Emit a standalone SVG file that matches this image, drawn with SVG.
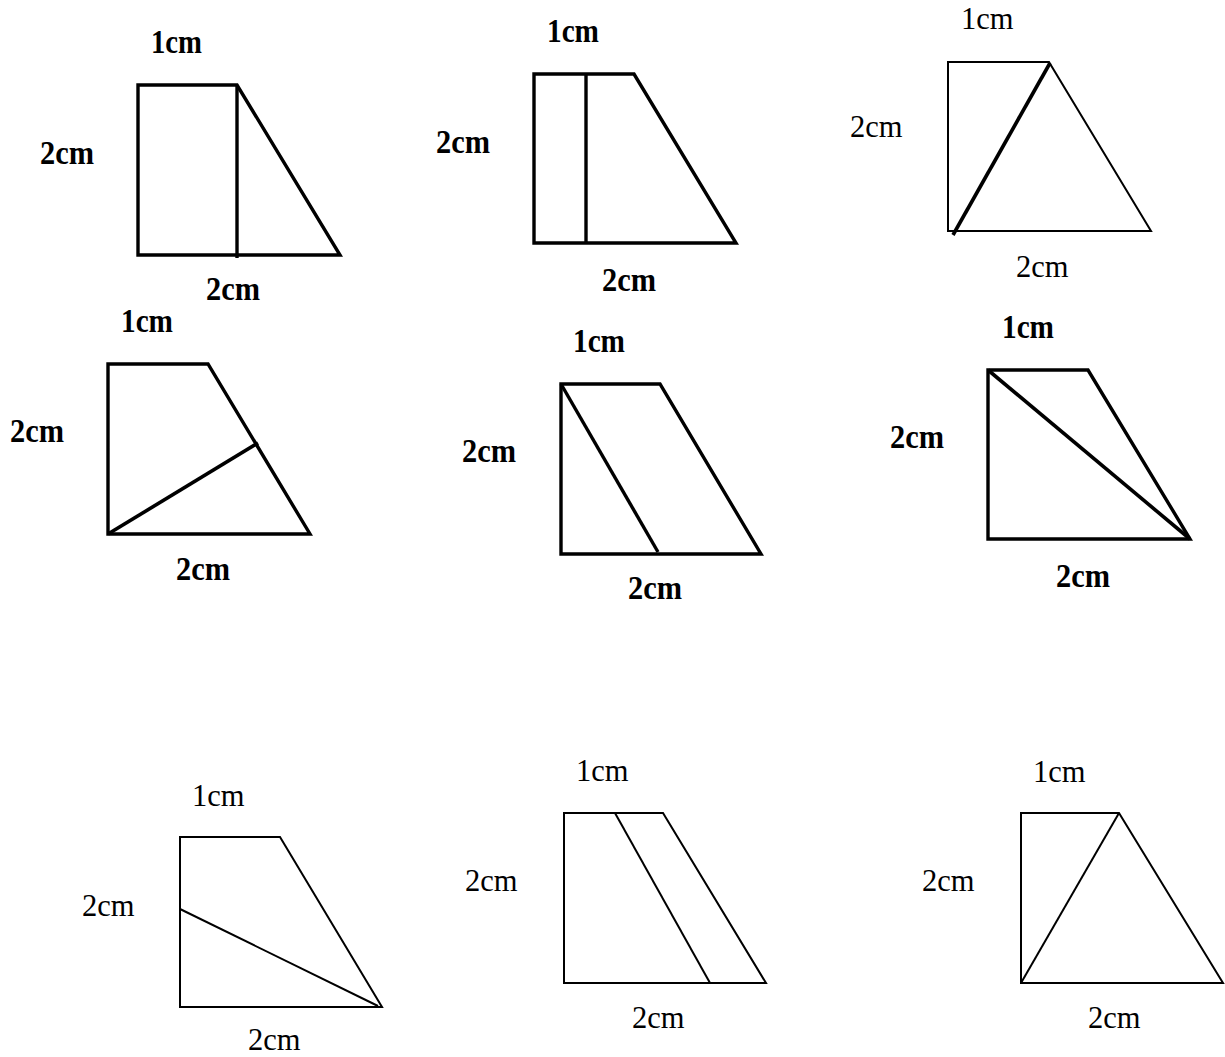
<svg xmlns="http://www.w3.org/2000/svg" width="1225" height="1057" viewBox="0 0 1225 1057">
<style>
.b{font-family:"Liberation Serif","Times New Roman",serif;font-weight:bold;font-size:33px;fill:#000}
.r{font-family:"Liberation Serif","Times New Roman",serif;font-size:30.5px;fill:#000}
.tk{fill:none;stroke:#000;stroke-width:3.4;stroke-linejoin:miter}
.tn{fill:none;stroke:#000;stroke-width:2}
.dg{fill:none;stroke:#000;stroke-width:3.6}
</style>
<rect width="1225" height="1057" fill="#fff"/>
<g id="shape1">
<polygon class="tk" points="138,85 237,85 340,255 138,255"/>
<line class="tk" x1="237" y1="85" x2="237" y2="258"/>
<text class="b" x="151" y="53" textLength="51" lengthAdjust="spacingAndGlyphs">1cm</text>
<text class="b" x="40" y="164" textLength="54" lengthAdjust="spacingAndGlyphs">2cm</text>
<text class="b" x="206" y="300" textLength="54" lengthAdjust="spacingAndGlyphs">2cm</text>
</g>
<g id="shape2">
<polygon class="tk" points="534,74 634,74 736,243 534,243"/>
<line class="tk" x1="586" y1="74" x2="586" y2="243"/>
<text class="b" x="547" y="42" textLength="52" lengthAdjust="spacingAndGlyphs">1cm</text>
<text class="b" x="436" y="153" textLength="54" lengthAdjust="spacingAndGlyphs">2cm</text>
<text class="b" x="602" y="291" textLength="54" lengthAdjust="spacingAndGlyphs">2cm</text>
</g>
<g id="shape3">
<polygon class="tn" points="948,62 1049,62 1151,231 948,231"/>
<line class="dg" x1="953" y1="235" x2="1050" y2="63"/>
<text class="r" x="961" y="29">1cm</text>
<text class="r" x="850" y="137">2cm</text>
<text class="r" x="1016" y="277">2cm</text>
</g>
<g id="shape4">
<polygon class="tk" points="108,364 208,364 310,534 108,534"/>
<line class="dg" x1="108" y1="534" x2="258" y2="443"/>
<text class="b" x="121" y="332" textLength="52" lengthAdjust="spacingAndGlyphs">1cm</text>
<text class="b" x="10" y="442" textLength="54" lengthAdjust="spacingAndGlyphs">2cm</text>
<text class="b" x="176" y="580" textLength="54" lengthAdjust="spacingAndGlyphs">2cm</text>
</g>
<g id="shape5">
<polygon class="tk" points="561,384 660,384 761,554 561,554"/>
<line class="tk" x1="561" y1="384" x2="658" y2="552"/>
<text class="b" x="573" y="352" textLength="52" lengthAdjust="spacingAndGlyphs">1cm</text>
<text class="b" x="462" y="462" textLength="54" lengthAdjust="spacingAndGlyphs">2cm</text>
<text class="b" x="628" y="599" textLength="54" lengthAdjust="spacingAndGlyphs">2cm</text>
</g>
<g id="shape6">
<polygon class="tk" points="988,370 1088,370 1190,539 988,539"/>
<line class="dg" x1="988" y1="370" x2="1190" y2="539"/>
<text class="b" x="1002" y="338" textLength="52" lengthAdjust="spacingAndGlyphs">1cm</text>
<text class="b" x="890" y="448" textLength="54" lengthAdjust="spacingAndGlyphs">2cm</text>
<text class="b" x="1056" y="587" textLength="54" lengthAdjust="spacingAndGlyphs">2cm</text>
</g>
<g id="shape7">
<polygon class="tn" points="180,837 280,837 382,1007 180,1007"/>
<line class="tn" x1="180" y1="909" x2="378" y2="1006"/>
<text class="r" x="192" y="806">1cm</text>
<text class="r" x="82" y="916">2cm</text>
<text class="r" x="248" y="1050">2cm</text>
</g>
<g id="shape8">
<polygon class="tn" points="564,813 663,813 766,983 564,983"/>
<line class="tn" x1="615" y1="813" x2="710" y2="983"/>
<text class="r" x="576" y="781">1cm</text>
<text class="r" x="465" y="891">2cm</text>
<text class="r" x="632" y="1028">2cm</text>
</g>
<g id="shape9">
<polygon class="tn" points="1021,813 1119,813 1223,983 1021,983"/>
<line class="tn" x1="1021" y1="983" x2="1119" y2="813"/>
<text class="r" x="1033" y="782">1cm</text>
<text class="r" x="922" y="891">2cm</text>
<text class="r" x="1088" y="1028">2cm</text>
</g>
<g id="connectors"/>
</svg>
